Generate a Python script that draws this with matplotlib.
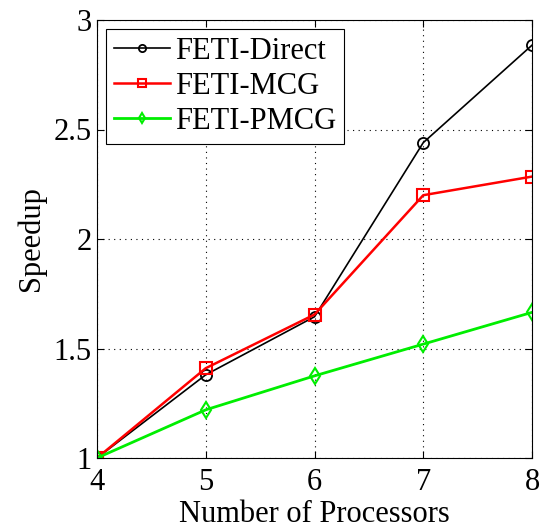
import matplotlib
matplotlib.use("Agg")
import matplotlib.pyplot as plt

processors = [4, 5, 6, 7, 8]
feti_direct = [1.0, 1.38, 1.645, 2.44, 2.885]
feti_mcg = [1.0, 1.41, 1.655, 2.20, 2.285]
feti_pmcg = [1.0, 1.22, 1.375, 1.52, 1.665]
xticks = [4, 5, 6, 7, 8]
yticks = [1, 1.5, 2, 2.5, 3]
ytick_labels = ["1", "1.5", "2", "2.5", "3"]

plt.rcParams['font.family'] = ['Liberation Serif', 'DejaVu Serif']

fig = plt.figure(figsize=(5.46, 5.29), dpi=100)
ax = fig.add_axes([97/546, 1 - 458/529, (532 - 97)/546, (458 - 20)/529])

ax.plot(processors, feti_direct, color='black', lw=1.2, marker='o', ms=8,
        mfc='none', mec='black', mew=1.3, label='FETI-Direct')
ax.plot(processors, feti_mcg, color='red', lw=1.8, marker='s', ms=9,
        mfc='none', mec='red', mew=1.5, label='FETI-MCG')
ax.plot(processors, feti_pmcg, color='#00ee00', lw=2.0, marker='d', ms=8,
        mfc='none', mec='#00ee00', mew=1.5, label='FETI-PMCG')

ax.set_xlim(4, 8)
ax.set_ylim(1, 3)
ax.set_xticks(xticks)
ax.set_yticks(yticks)
ax.set_yticklabels(ytick_labels)
ax.tick_params(direction='in', length=5, labelsize=22, width=0.8,
               top=True, right=True)
ax.tick_params(axis='x', pad=7)
ax.tick_params(axis='y', pad=4)
ax.grid(True, color='black', linestyle=(0, (1, 4)), linewidth=0.8)
for s in ax.spines.values():
    s.set_linewidth(0.8)

ax.set_xlabel('Number of Processors', fontsize=22, labelpad=2)
ax.set_ylabel('Speedup', fontsize=22, labelpad=5)

leg = ax.legend(loc='upper left', fontsize=22, frameon=True, fancybox=False,
                edgecolor='black', framealpha=1, borderaxespad=0.3,
                handlelength=1.85, handletextpad=0.15, labelspacing=0.2,
                borderpad=0.25, markerscale=0.65)
leg.get_frame().set_linewidth(0.8)

fig.savefig('out.png', dpi=100)
